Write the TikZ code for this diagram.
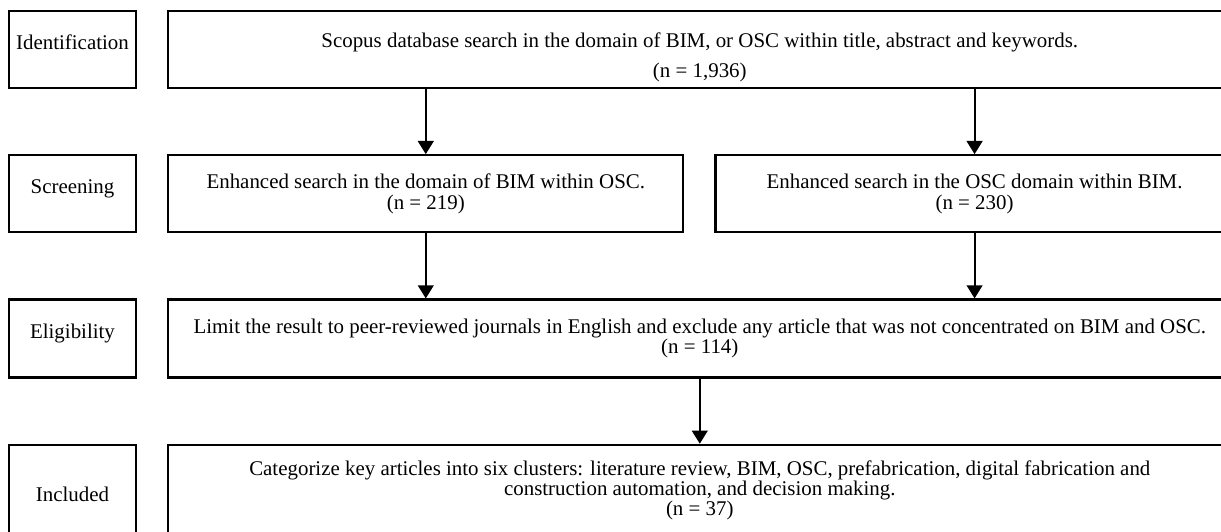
\documentclass[tikz,border=0pt]{standalone}
\usepackage{fontspec}
\setmainfont{Liberation Serif}
\usetikzlibrary{arrows.meta,positioning}
\tikzset{>={Triangle[width=9pt,length=7.5pt]}}

\begin{document}
\begin{tikzpicture}[
    node distance=1.3cm and 0.6cm,
    stage/.style={rectangle, draw, line width=1.3pt, minimum width=2.54cm,
        minimum height=1.54cm, align=center, text height=0pt, text depth=0pt,
        font=\fontsize{11.9pt}{11.6pt}\selectfont},
    box/.style={rectangle, draw, line width=1.3pt, minimum width=21.26cm,
        minimum height=1.54cm, align=center,
        font=\fontsize{11.9pt}{11.6pt}\selectfont},
    arrow/.style={->, line width=1.1pt}
]
    \useasboundingbox (0,0) rectangle (24.42,-10.62);

    \node[stage] (ident) at (1.45,-0.99) {Identification};
    \node[stage, below=of ident] (screen) {Screening};
    \node[stage, below=of screen, minimum height=1.56cm] (elig) {Eligibility};
    \node[stage, below=of elig, minimum height=2.28cm] (incl) {Included};

    \node[box, right=of ident, text height=34.5pt] (scopus)
        {Scopus database search in the domain of BIM, or OSC within title, abstract and keywords.\\[5.4pt](n = 1,936)};
    \node[box, right=of screen, minimum width=10.3cm] (bimosc)
        {Enhanced search in the domain of BIM within OSC.\\(n = 219)};
    \node[box, right=of bimosc, minimum width=10.36cm] (oscbim)
        {Enhanced search in the OSC domain within BIM.\\(n = 230)};
    \node[box, right=of elig, minimum height=1.56cm] (limit)
        {Limit the result to peer-reviewed journals in English and exclude any article that was not concentrated on BIM and OSC.\\(n = 114)};
    \node[box, right=of incl, minimum height=2.28cm, text depth=15.5pt] (clusters)
        {Categorize key articles into six clusters: literature review, BIM, OSC, prefabrication, digital fabrication and\\construction automation, and decision making.\\(n = 37)};

    \draw[arrow] (scopus.south -| bimosc.north) -- (bimosc.north);
    \draw[arrow] (scopus.south -| oscbim.north) -- (oscbim.north);
    \draw[arrow] (bimosc.south) -- (bimosc.south |- limit.north);
    \draw[arrow] (oscbim.south) -- (oscbim.south |- limit.north);
    \draw[arrow] (limit.south) -- (clusters.north);
\end{tikzpicture}
\end{document}
